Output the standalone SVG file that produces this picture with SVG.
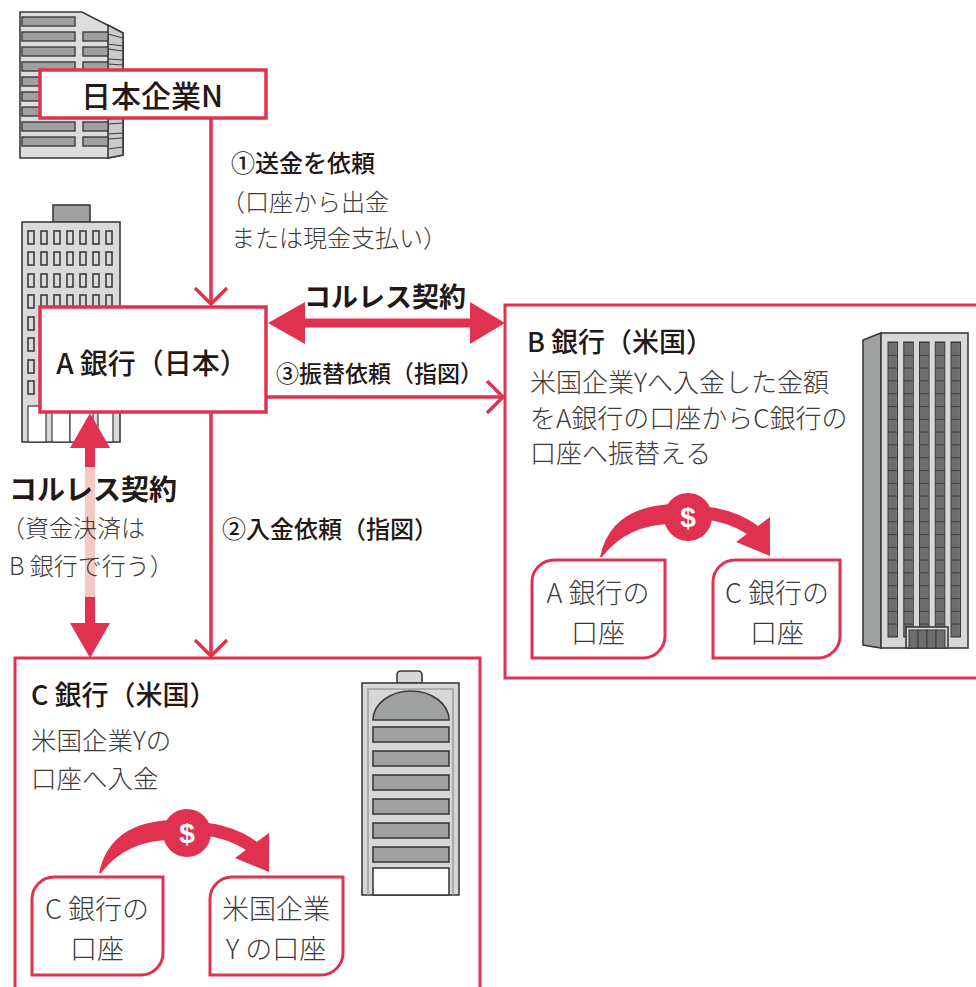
<svg xmlns="http://www.w3.org/2000/svg" width="976" height="987" viewBox="0 0 976 987">
  <style>
    text { font-family: "Noto Sans CJK JP", "Noto Sans", sans-serif; fill: #231815; }
    .title { font-size: 27px; font-weight: 500; }
    .bold { font-size: 27px; font-weight: 700; }
    .body { font-size: 24px; font-weight: 300; fill: #3e3a39; }
    .lead { font-size: 24px; font-weight: 500; fill: #231815; }
    .acct { font-size: 27px; font-weight: 300; fill: #3e3a39; text-anchor: middle; }
    .box { fill: #ffffff; stroke: #e03250; stroke-width: 3.5; }
    .frame { fill: none; stroke: #e03250; stroke-width: 3; }
    .line { fill: none; stroke: #e03250; stroke-width: 3.5; }
    .head { fill: none; stroke: #e03250; stroke-width: 3.5; stroke-linejoin: miter; }
    .solid { fill: #e03250; }
    .bld { stroke: #3e3a39; stroke-width: 1.6; }
    .win { fill: #9fa0a0; stroke: #3e3a39; stroke-width: 1.4; }
  </style>
  <defs>
    <pattern id="bWin" patternUnits="userSpaceOnUse" x="888" y="342" width="15.75" height="12.8">
      <rect x="0" y="0" width="9.5" height="12.8" fill="#6f6e6e"/>
      <line x1="0" y1="0.5" x2="9.5" y2="0.5" stroke="#3e3a39" stroke-width="1"/>
    </pattern>
    <!-- money transfer arc with dollar badge -->
    <g id="xfer">
      <path class="solid" d="M600,557 Q611,505 676,504 L676,524 Q628,523 602,557 Z"/>
      <path d="M688,512 Q728,512 754,531" fill="none" stroke="#e03250" stroke-width="13"/>
      <polygon class="solid" points="770,517 736,542 770,556"/>
      <circle cx="688" cy="517" r="24" fill="#e03250"/>
      <text x="688" y="527" text-anchor="middle" style="font-family:'Liberation Sans','Noto Sans',sans-serif;font-size:28px;font-weight:700;fill:#ffffff">$</text>
    </g>
  </defs>

  <!-- office building behind company N -->
  <g id="bldg-n">
    <polygon class="bld" fill="#dcdddd" points="20,12 82,12 123,33 123,155 108,158 20,158"/>
    <polygon class="bld" fill="#c9caca" points="108,25 123,33 123,155 108,158"/>
    <g class="win">
      <rect x="22" y="17" width="53" height="9"/>
      <rect x="22" y="32" width="53" height="9"/><rect x="83" y="32" width="25" height="9"/>
      <rect x="22" y="47" width="53" height="9"/><rect x="83" y="47" width="25" height="9"/>
      <rect x="22" y="62" width="53" height="9"/><rect x="83" y="62" width="25" height="9"/>
      <rect x="22" y="77" width="53" height="9"/><rect x="83" y="77" width="25" height="9"/>
      <rect x="22" y="92" width="53" height="9"/><rect x="83" y="92" width="25" height="9"/>
      <rect x="22" y="107" width="53" height="9"/><rect x="83" y="107" width="25" height="9"/>
      <rect x="22" y="122" width="53" height="9"/><rect x="83" y="122" width="25" height="9"/>
      <rect x="22" y="137" width="53" height="9"/><rect x="83" y="137" width="25" height="9"/>
    </g>
    <path d="M108,34 L123,38 M108,44 L123,46 M108,49 L123,51 M108,59 L123,60 M108,64 L123,65 M108,74 L123,75 M108,79 L123,80 M108,89 L123,89 M108,94 L123,94 M108,104 L123,104 M108,109 L123,109 M108,119 L123,118 M108,124 L123,123 M108,134 L123,133 M108,139 L123,138 M108,149 L123,147" stroke="#3e3a39" stroke-width="1"/>
  </g>

  <!-- office building behind bank A -->
  <g id="bldg-a">
    <rect class="bld" x="53" y="205" width="37" height="17" fill="#9fa0a0"/>
    <rect class="bld" x="22" y="222" width="98" height="220" fill="#d9dada"/>
    <g fill="#d9dada" stroke="#3e3a39" stroke-width="1.6">
      <rect x="28" y="231" width="6" height="13"/><rect x="41" y="231" width="6" height="13"/><rect x="54" y="231" width="6" height="13"/><rect x="67" y="231" width="6" height="13"/><rect x="80" y="231" width="6" height="13"/><rect x="93" y="231" width="6" height="13"/><rect x="106" y="231" width="6" height="13"/>
      <rect x="28" y="252" width="6" height="13"/><rect x="41" y="252" width="6" height="13"/><rect x="54" y="252" width="6" height="13"/><rect x="67" y="252" width="6" height="13"/><rect x="80" y="252" width="6" height="13"/><rect x="93" y="252" width="6" height="13"/><rect x="106" y="252" width="6" height="13"/>
      <rect x="28" y="274" width="6" height="13"/><rect x="41" y="274" width="6" height="13"/><rect x="54" y="274" width="6" height="13"/><rect x="67" y="274" width="6" height="13"/><rect x="80" y="274" width="6" height="13"/><rect x="93" y="274" width="6" height="13"/><rect x="106" y="274" width="6" height="13"/>
      <rect x="28" y="295" width="6" height="13"/><rect x="41" y="295" width="6" height="13"/><rect x="54" y="295" width="6" height="13"/><rect x="67" y="295" width="6" height="13"/><rect x="80" y="295" width="6" height="13"/><rect x="93" y="295" width="6" height="13"/><rect x="106" y="295" width="6" height="13"/>
      <rect x="28" y="317" width="6" height="13"/>
      <rect x="28" y="338" width="6" height="13"/>
      <rect x="28" y="360" width="6" height="13"/>
      <rect x="28" y="381" width="6" height="13"/>
    </g>
    <g fill="#ffffff" stroke="#3e3a39" stroke-width="1.2">
      <rect x="28" y="406" width="18" height="36"/>
      <rect x="52" y="406" width="18" height="36"/>
      <rect x="70" y="406" width="23" height="36"/>
      <rect x="98" y="406" width="15" height="36"/>
    </g>
  </g>

  <!-- tower behind bank B -->
  <g id="bldg-b">
    <polygon class="bld" fill="#9fa0a0" points="863,340 881,333 881,648 863,645"/>
    <rect class="bld" x="881" y="333" width="87" height="315" fill="#d6d7d7"/>
    <rect x="888" y="342" width="73" height="295" fill="url(#bWin)"/>
    <g fill="none" stroke="#3e3a39" stroke-width="1">
      <rect x="888" y="342" width="9.5" height="295"/><rect x="903.75" y="342" width="9.5" height="295"/><rect x="919.5" y="342" width="9.5" height="295"/><rect x="935.25" y="342" width="9.5" height="295"/><rect x="951" y="342" width="9.5" height="295"/>
    </g>
    <rect class="bld" x="906" y="627" width="42" height="21" fill="#d6d7d7"/>
    <g fill="#6f6e6e" stroke="#3e3a39" stroke-width="1">
      <rect x="909" y="630" width="9" height="18"/><rect x="918" y="630" width="9" height="18"/><rect x="927" y="630" width="9" height="18"/><rect x="936" y="630" width="9" height="18"/>
    </g>
  </g>

  <!-- building beside bank C -->
  <g id="bldg-c">
    <path class="bld" d="M397,683 V675 Q397,671 401,671 H418 Q422,671 422,675 V683 Z" fill="#d6d7d7"/>
    <rect class="bld" x="362" y="683" width="97" height="212" fill="#d6d7d7"/>
    <path d="M368,895 V689 H453 V895" fill="none" stroke="#9fa0a0" stroke-width="1.6"/>
    <path class="bld" d="M373,720 A38,29 0 0 1 449,720 Z" fill="#9fa0a0"/>
    <g class="bld" fill="#9fa0a0">
      <rect x="373" y="727" width="76" height="15"/>
      <rect x="373" y="751" width="76" height="15"/>
      <rect x="373" y="775" width="76" height="15"/>
      <rect x="373" y="799" width="76" height="15"/>
      <rect x="373" y="823" width="76" height="15"/>
      <rect x="373" y="847" width="76" height="15"/>
    </g>
    <rect class="bld" x="373" y="868" width="76" height="27" fill="#ffffff"/>
  </g>

  <!-- connectors -->
  <g id="connectors">
    <!-- (1) remittance request: N -> A -->
    <line class="line" x1="211" y1="118" x2="211" y2="304"/>
    <polyline class="head" points="195,288 211,304 227,288"/>
    <!-- correspondent contract A <-> B -->
    <rect class="solid" x="300" y="318.5" width="172" height="9"/>
    <polygon class="solid" points="268,323 305,302 305,344"/>
    <polygon class="solid" points="505,323 470,302 470,344"/>
    <!-- (3) transfer instruction A -> B -->
    <line class="line" x1="266" y1="397" x2="503" y2="397"/>
    <polyline class="head" points="487,381 503,397 487,413"/>
    <!-- (2) deposit instruction A -> C -->
    <line class="line" x1="211" y1="412" x2="211" y2="656"/>
    <polyline class="head" points="195,640 211,656 227,640"/>
    <!-- correspondent contract A <-> C -->
    <rect class="solid" x="85" y="446" width="10" height="22"/>
    <rect x="85" y="467" width="10" height="131" fill="#f5c8c3"/>
    <rect class="solid" x="85" y="597" width="10" height="28"/>
    <polygon class="solid" points="90,413 70,448 110,448"/>
    <polygon class="solid" points="90,658 70,623 110,623"/>
  </g>

  <!-- company N -->
  <g id="node-n">
    <rect class="box" x="40" y="70" width="226" height="48"/>
    <text class="title" x="152" y="107" text-anchor="middle" style="font-size:30px">日本企業N</text>
  </g>

  <!-- bank A -->
  <g id="node-a">
    <rect class="box" x="40" y="307" width="226" height="105"/>
    <text class="title" x="152" y="374" text-anchor="middle" style="font-size:28px">A 銀行（日本）</text>
  </g>

  <!-- bank B -->
  <g id="node-b">
    <rect class="frame" x="505" y="305" width="490" height="373"/>
    <text class="title" x="527" y="352">B 銀行（米国）</text>
    <text class="body" x="530" y="392" style="font-size:26px">米国企業Yへ入金した金額</text>
    <text class="body" x="530" y="428" style="font-size:26px">をA銀行の口座からC銀行の</text>
    <text class="body" x="530" y="463" style="font-size:26px">口座へ振替える</text>
    <use href="#xfer"/>
    <path class="frame" d="M532,582 A22,22 0 0 1 554,560 H665 V636 A22,22 0 0 1 643,658 H532 Z" fill="#ffffff"/>
    <text class="acct" x="598" y="603">A 銀行の</text>
    <text class="acct" x="598" y="643">口座</text>
    <path class="frame" d="M713,582 A22,22 0 0 1 735,560 H840 V636 A22,22 0 0 1 818,658 H713 Z" fill="#ffffff"/>
    <text class="acct" x="777" y="603">C 銀行の</text>
    <text class="acct" x="777" y="643">口座</text>
  </g>

  <!-- bank C -->
  <g id="node-c">
    <path class="frame" d="M15,995 V658 H480 V995"/>
    <text class="title" x="31" y="705">C 銀行（米国）</text>
    <text class="body" x="31" y="750" style="font-size:25.5px">米国企業Yの</text>
    <text class="body" x="31" y="788" style="font-size:25.5px">口座へ入金</text>
    <use href="#xfer" transform="translate(-501,316)"/>
    <path class="frame" d="M32,899 A22,22 0 0 1 54,877 H163 V953 A22,22 0 0 1 141,975 H32 Z" fill="#ffffff"/>
    <text class="acct" x="97" y="919">C 銀行の</text>
    <text class="acct" x="97" y="959">口座</text>
    <path class="frame" d="M210,899 A22,22 0 0 1 232,877 H343 V953 A22,22 0 0 1 321,975 H210 Z" fill="#ffffff"/>
    <text class="acct" x="276" y="919">米国企業</text>
    <text class="acct" x="276" y="959">Y の口座</text>
  </g>

  <!-- connector labels -->
  <g id="labels">
    <text class="lead" x="231" y="172">①送金を依頼</text>
    <text class="body" x="221" y="211">（口座から出金</text>
    <text class="body" x="231" y="247">または現金支払い）</text>
    <text class="bold" x="304" y="307">コルレス契約</text>
    <text class="lead" x="276" y="382" style="font-size:23px">③振替依頼（指図）</text>
    <text class="lead" x="222" y="538">②入金依頼（指図）</text>
    <text class="bold" x="9" y="500" style="font-size:28px">コルレス契約</text>
    <text class="body" x="1" y="537">（資金決済は</text>
    <text class="body" x="9" y="575">B 銀行で行う）</text>
  </g>
</svg>
